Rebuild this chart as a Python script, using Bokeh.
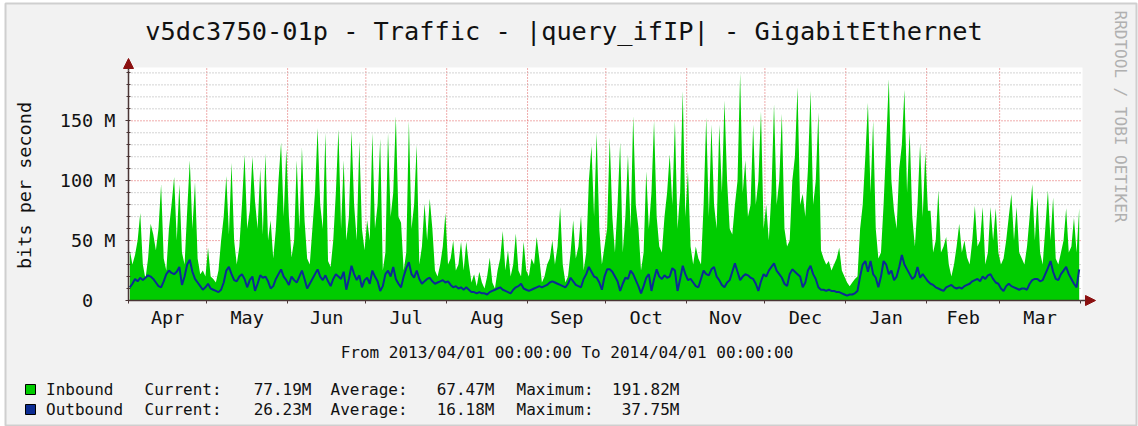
from datetime import date

from bokeh.embed import file_html
from bokeh.models import Arrow, FixedTicker, Label, NormalHead, Range1d
from bokeh.plotting import figure
from bokeh.resources import INLINE

# ---------------------------------------------------------------- texts
TITLE = "v5dc3750-01p - Traffic - |query_ifIP| - GigabitEthernet"
Y_LABEL = "bits per second"
SIDE_TEXT = "RRDTOOL / TOBI OETIKER"
PERIOD_TEXT = "From 2013/04/01 00:00:00 To 2014/04/01 00:00:00"

# ---------------------------------------------------------------- axes
MONTH_STARTS = [date(2013, 4, 1), date(2013, 5, 1), date(2013, 6, 1),
                date(2013, 7, 1), date(2013, 8, 1), date(2013, 9, 1),
                date(2013, 10, 1), date(2013, 11, 1), date(2013, 12, 1),
                date(2014, 1, 1), date(2014, 2, 1), date(2014, 3, 1),
                date(2014, 4, 1)]
MONTH_NAMES = ["Apr", "May", "Jun", "Jul", "Aug", "Sep",
               "Oct", "Nov", "Dec", "Jan", "Feb", "Mar"]
Y_MAJOR = [0, 50, 100, 150]
Y_MAJOR_LABELS = ["0\u00a0\u00a0", "50 M", "100 M", "150 M"]
Y_MINOR = [10, 20, 30, 40, 60, 70, 80, 90, 110, 120, 130, 140, 160, 170, 180, 190]

# ---------------------------------------------------------------- data (Mbit/s, one value per day)
IN_APR = [42, 30, 38, 50, 73, 30, 18, 35, 64, 55, 42, 60, 97, 35, 25, 60, 80, 103, 50, 97,
          40, 30, 75, 117, 60, 99, 35, 22, 25, 20]
IN_MAY = [44, 20, 18, 15, 25, 50, 70, 104, 55, 115, 50, 30, 45, 80, 122, 60, 75, 120, 83, 60,
          110, 55, 123, 50, 67, 35, 60, 100, 132, 70, 126]
IN_JUN = [70, 36, 50, 117, 60, 128, 67, 35, 30, 60, 90, 144, 80, 60, 140, 33, 28, 50, 90, 143,
          60, 117, 50, 70, 142, 80, 50, 133, 60, 42]
IN_JUL = [67, 50, 140, 60, 80, 135, 25, 40, 140, 70, 90, 154, 70, 65, 25, 40, 150, 60, 80, 130,
          30, 45, 81, 50, 85, 60, 25, 20, 30, 45, 73]
IN_AUG = [30, 35, 50, 25, 30, 49, 25, 49, 30, 15, 22, 12, 24, 15, 10, 20, 36, 15, 10, 25,
          35, 58, 25, 42, 20, 30, 56, 25, 20, 49, 25]
IN_SEP = [20, 35, 30, 53, 35, 15, 20, 30, 35, 50, 30, 45, 78, 30, 15, 20, 40, 67, 35, 45,
          71, 25, 40, 100, 129, 70, 140, 60, 30, 45]
IN_OCT = [60, 136, 70, 40, 80, 132, 40, 70, 122, 60, 154, 80, 61, 25, 40, 108, 60, 90, 150, 70,
          45, 40, 70, 90, 122, 80, 150, 60, 90, 175, 70]
IN_NOV = [108, 45, 30, 45, 35, 30, 80, 153, 70, 147, 80, 60, 147, 90, 167, 100, 60, 55, 80, 100,
          190, 90, 117, 70, 80, 147, 80, 100, 158, 60]
IN_DEC = [80, 50, 90, 164, 80, 100, 156, 60, 45, 50, 100, 120, 178, 80, 89, 70, 110, 175, 80, 100,
          157, 42, 35, 30, 33, 25, 30, 35, 44, 25, 20]
IN_JAN = [15, 12, 15, 18, 20, 60, 80, 120, 165, 90, 150, 60, 35, 40, 80, 130, 185, 100, 75, 60,
          110, 130, 176, 90, 142, 70, 45, 80, 131, 70, 124]
IN_FEB = [75, 75, 40, 50, 92, 40, 45, 53, 30, 20, 30, 45, 64, 40, 50, 36, 30, 50, 79, 45,
          50, 78, 30, 40, 78, 50, 77, 40]
IN_MAR = [30, 35, 50, 70, 89, 50, 78, 40, 35, 30, 45, 70, 97, 50, 86, 40, 30, 60, 92, 50,
          86, 35, 30, 40, 50, 77, 40, 45, 69, 40, 77]

OUT_APR = [11, 14, 18, 16, 19, 17, 19, 21, 20, 18, 15, 12, 11, 16, 22, 25, 23, 22, 24, 28,
           13, 20, 30, 34, 24, 18, 15, 12, 9, 11]
OUT_MAY = [14, 10, 9, 8, 7, 9, 15, 25, 28, 22, 17, 16, 20, 22, 18, 11, 17, 20, 8, 14,
           21, 19, 20, 16, 10, 12, 18, 22, 26, 20, 17]
OUT_JUN = [13, 20, 17, 15, 20, 25, 18, 10, 14, 18, 22, 26, 20, 17, 21, 16, 12, 18, 22, 20,
           18, 24, 9, 18, 29, 22, 17, 21, 11, 17]
OUT_JUL = [19, 14, 25, 20, 16, 8, 12, 22, 25, 20, 28, 18, 14, 11, 20, 27, 32, 22, 19, 25,
           18, 14, 16, 18, 19, 16, 14, 15, 16, 17, 15]
OUT_AUG = [16, 13, 11, 12, 10, 11, 9, 11, 9, 7, 7, 6, 7, 6, 6, 5, 7, 8, 9, 10,
           11, 9, 8, 7, 6, 9, 11, 12, 14, 10, 9]
OUT_SEP = [8, 9, 10, 11, 12, 11, 12, 13, 15, 16, 15, 14, 13, 12, 11, 14, 19, 16, 13, 12,
           11, 18, 22, 28, 24, 20, 19, 15, 9, 20]
OUT_OCT = [26, 26, 24, 20, 16, 8, 14, 19, 18, 25, 22, 17, 12, 6, 12, 19, 22, 8, 18, 26,
           20, 18, 21, 19, 20, 27, 25, 8, 18, 29, 22]
OUT_NOV = [17, 18, 15, 12, 11, 18, 25, 22, 21, 26, 28, 20, 17, 13, 11, 15, 17, 24, 31, 24,
           17, 20, 22, 21, 19, 18, 14, 8, 16, 22]
OUT_DEC = [20, 25, 28, 31, 25, 22, 19, 14, 12, 22, 26, 24, 22, 20, 11, 15, 25, 29, 22, 18,
           11, 9, 9, 8, 9, 8, 8, 7, 7, 6, 5]
OUT_JAN = [4, 5, 5, 6, 8, 20, 30, 33, 24, 33, 22, 19, 11, 20, 33, 30, 22, 25, 17, 20,
           28, 38, 30, 26, 22, 18, 20, 28, 19, 22, 19]
OUT_FEB = [16, 14, 13, 11, 10, 9, 8, 11, 12, 13, 11, 10, 11, 10, 12, 13, 14, 16, 17, 18,
           16, 20, 18, 21, 22, 18, 15, 14]
OUT_MAR = [10, 8, 12, 14, 12, 11, 10, 9, 10, 10, 9, 14, 17, 18, 18, 16, 17, 22, 27, 33,
           24, 18, 17, 22, 25, 28, 22, 18, 14, 11, 26]

SERIES_NAMES = ["Inbound", "Outbound"]
STAT_CURRENT = ["77.19M", "26.23M"]
STAT_AVERAGE = ["67.47M", "16.18M"]
STAT_MAXIMUM = ["191.82M", "37.75M"]

# ---------------------------------------------------------------- styles
IN_COLOR = "#00cc00"
OUT_COLOR = "#0b2c93"
SERIES_COLORS = [IN_COLOR, OUT_COLOR]
BACK = "#f2f2f2"
AXIS_COLOR = "#4a3535"
ARROW_COLOR = "#8b1010"
MGRID = "#e05a5a"
GRID = "#a8a8a8"
FONT = "DejaVu Sans Mono"
TEXT_COLOR = "#111111"

inbound = IN_APR + IN_MAY + IN_JUN + IN_JUL + IN_AUG + IN_SEP + IN_OCT + IN_NOV + IN_DEC + IN_JAN + IN_FEB + IN_MAR
outbound = OUT_APR + OUT_MAY + OUT_JUN + OUT_JUL + OUT_AUG + OUT_SEP + OUT_OCT + OUT_NOV + OUT_DEC + OUT_JAN + OUT_FEB + OUT_MAR
days = [i + 0.5 for i in range(len(inbound))]

bounds = [(d - MONTH_STARTS[0]).days for d in MONTH_STARTS]
mids = [(a + b) / 2 for a, b in zip(bounds[:-1], bounds[1:])]
X_END = bounds[-1]
Y_TOP = 192

# ---------------------------------------------------------------- page geometry (px)
W, H = 1138, 426
DATA_L, DATA_R, DATA_B, DATA_T = 128, 1080, 300, 70      # graph canvas
PPX = (DATA_R - DATA_L) / X_END                           # px per day
PPY = (DATA_B - DATA_T) / Y_TOP                           # px per Mbit/s


def vx(x_page):
    return (x_page - DATA_L) / PPX


def vy(y_page):
    return (DATA_B - y_page) / PPY


# the frame covers the whole canvas; the axes are pinned at 0 with fixed_location
p = figure(width=W, height=H, output_backend="svg", toolbar_location=None,
           x_range=Range1d(vx(0), vx(W)), y_range=Range1d(vy(H), vy(0)),
           min_border=0)
p.title.visible = False
p.background_fill_color = "white"
p.border_fill_color = "white"
p.outline_line_color = None
p.xgrid.visible = False
p.ygrid.visible = False

# image background (grey with shaded edge) and white graph canvas
p.quad(left=[vx(5)], right=[vx(1136)], bottom=[vy(425)], top=[vy(3)],
       fill_color=BACK, line_color="#cfcfcf", line_width=2)
CANVAS_R, CANVAS_T = vx(1082), vy(67)
p.quad(left=[0], right=[CANVAS_R], bottom=[0], top=[CANVAS_T],
       fill_color="white", line_color=None)

# grid lines
grid_x = bounds[1:-1]
p.segment(x0=grid_x, y0=[0] * len(grid_x), x1=grid_x, y1=[CANVAS_T] * len(grid_x),
          line_color=MGRID, line_dash="1 2", line_width=1)
p.segment(x0=[0] * len(Y_MINOR), y0=Y_MINOR, x1=[CANVAS_R] * len(Y_MINOR), y1=Y_MINOR,
          line_color=GRID, line_dash="1 2", line_width=1)
p.segment(x0=[0] * 3, y0=Y_MAJOR[1:], x1=[CANVAS_R] * 3, y1=Y_MAJOR[1:],
          line_color=MGRID, line_dash="1 2", line_width=1)

# data
p.varea(x=days, y1=0, y2=inbound, fill_color=IN_COLOR)
p.line(x=days, y=outbound, line_color=OUT_COLOR, line_width=2)

# x axis
xa = p.xaxis[0]
xa.fixed_location = 0
xa.bounds = (0, X_END)
xa.ticker = FixedTicker(ticks=mids, minor_ticks=bounds)
xa.major_label_overrides = {m: n for m, n in zip(mids, MONTH_NAMES)}
xa.major_tick_in = 0
xa.major_tick_out = 0
xa.minor_tick_in = 0
xa.minor_tick_out = 3
xa.minor_tick_line_color = AXIS_COLOR
xa.axis_line_color = AXIS_COLOR
xa.axis_line_width = 1.5
xa.major_label_text_font = FONT
xa.major_label_text_font_size = "18.5px"
xa.major_label_text_color = TEXT_COLOR
xa.major_label_standoff = 3

# y axis
ya = p.yaxis[0]
ya.fixed_location = 0
ya.bounds = (0, Y_TOP)
ya.ticker = FixedTicker(ticks=Y_MAJOR, minor_ticks=Y_MINOR)
ya.major_label_overrides = {v: t for v, t in zip(Y_MAJOR, Y_MAJOR_LABELS)}
ya.major_tick_in = 2
ya.major_tick_out = 3
ya.minor_tick_in = 2
ya.minor_tick_out = 2
ya.major_tick_line_color = AXIS_COLOR
ya.minor_tick_line_color = AXIS_COLOR
ya.axis_line_color = AXIS_COLOR
ya.axis_line_width = 1.5
ya.major_label_text_font = FONT
ya.major_label_text_font_size = "18.5px"
ya.major_label_text_color = TEXT_COLOR
ya.major_label_standoff = 10

# axis arrows
p.add_layout(Arrow(end=NormalHead(size=10, fill_color=ARROW_COLOR, line_color=ARROW_COLOR),
                   x_start=0, y_start=Y_TOP, x_end=0, y_end=vy(58),
                   line_color=AXIS_COLOR, line_width=1.5))
p.add_layout(Arrow(end=NormalHead(size=10, fill_color=ARROW_COLOR, line_color=ARROW_COLOR),
                   x_start=X_END, y_start=0, x_end=vx(1095), y_end=0,
                   line_color=AXIS_COLOR, line_width=1.5))


def text(xp, yp, s, size="16px", align="left", color=TEXT_COLOR, angle=0.0):
    p.add_layout(Label(x=vx(xp), y=vy(yp), text=s, text_font=FONT, text_font_size=size,
                       text_color=color, text_align=align, text_baseline="middle",
                       angle=angle))


# titles and captions
text(563.5, 31, TITLE, size="25.3px", align="center")
text(24, 185, Y_LABEL, size="18.5px", align="center", angle=1.5708)
text(1120, 116, SIDE_TEXT, size="16px", align="center", color="#b0b0b0", angle=-1.5708)
text(566.5, 352, PERIOD_TEXT, align="center")

# legend rows: colour box, name, then Current / Average / Maximum columns
ROW_Y = [389, 409]
for i in range(2):
    yc = ROW_Y[i]
    p.quad(left=[vx(25)], right=[vx(35)], bottom=[vy(yc + 5)], top=[vy(yc - 5)],
           fill_color=SERIES_COLORS[i], line_color="black", line_width=1)
    text(45.5, yc, SERIES_NAMES[i])
    text(144, yc, "Current:")
    text(311, yc, STAT_CURRENT[i], align="right")
    text(330, yc, "Average:")
    text(494, yc, STAT_AVERAGE[i], align="right")
    text(516, yc, "Maximum:")
    text(679, yc, STAT_MAXIMUM[i], align="right")

open("out.html", "w").write(file_html(p, INLINE))
